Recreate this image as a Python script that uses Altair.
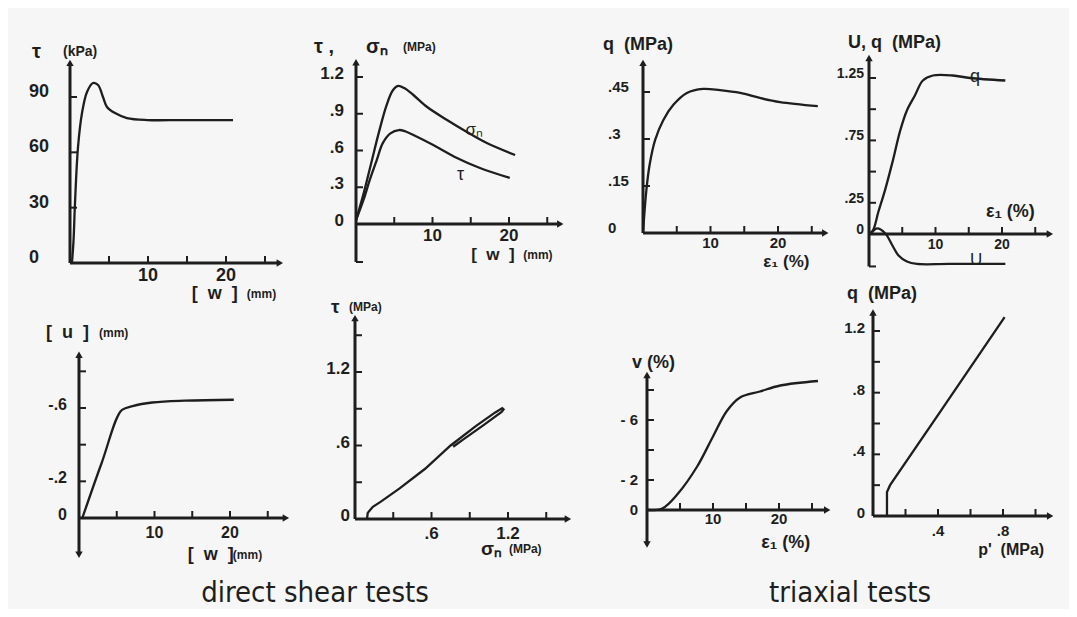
import altair as alt
import pandas as pd

# ------------------------------------------------------------------
# DATA
# ------------------------------------------------------------------
# Panel 1 - direct shear: tau (kPa) vs w (mm)
P1_W = [0.25, 0.45, 0.64, 1.03, 1.54, 2.18, 2.95, 3.6, 4.23, 4.74, 5.77, 7.3, 9.9, 14.5, 20.9]
P1_TAU = [0, 12, 32.5, 63, 81.3, 92.7, 97.6, 96.5, 90, 84.6, 81.3, 78.6, 77.5, 77.5, 77.5]

# Panel 2 - direct shear: sigma_n and tau (MPa) vs w (mm)
P2_W_SN = [0, 1, 2, 3, 4, 4.8, 5.5, 6.3, 7.5, 9.3, 11.9, 14.5, 17.1, 20.8]
P2_SN = [0.03, 0.25, 0.5, 0.75, 0.97, 1.09, 1.127, 1.11, 1.053, 0.955, 0.849, 0.751, 0.661, 0.563]
P2_W_TAU = [0, 1, 1.8, 2.7, 3.5, 4.5, 5.6, 6.5, 7.5, 10.1, 13.2, 16.2, 20.1]
P2_TAU = [0.03, 0.2, 0.36, 0.52, 0.66, 0.74, 0.767, 0.755, 0.727, 0.645, 0.539, 0.457, 0.376]

# Panel 3 - triaxial: q (MPa) vs eps1 (%)
P3_EPS = [0, 0.5, 1.0, 1.8, 3, 4.5, 6.5, 8.9, 11.4, 14.4, 17.3, 20.3, 25.9]
P3_Q = [0, 0.137, 0.22, 0.297, 0.36, 0.409, 0.447, 0.46, 0.456, 0.447, 0.431, 0.418, 0.405]

# Panel 4 - triaxial: q and U (MPa) vs eps1 (%)
P4_EPS_Q = [0, 0.6, 1.4, 2.4, 3.5, 4.7, 5.7, 6.9, 8.1, 9.6, 12.6, 15.2, 20.5]
P4_Q = [0, 0.03, 0.176, 0.35, 0.57, 0.83, 0.99, 1.11, 1.23, 1.27, 1.27, 1.25, 1.23]
P4_EPS_U = [0, 0.45, 1.2, 2.4, 3.5, 4.4, 5.7, 7.2, 12, 20.5]
P4_U = [0, 0.016, 0.045, 0.008, -0.09, -0.17, -0.22, -0.24, -0.24, -0.24]

# Panel 5 - direct shear: u (mm) vs w (mm)
P5_W = [0.4, 3.0, 5.7, 7.1, 9.7, 14.0, 20.5]
P5_U = [0.005, -0.3, -0.59, -0.61, -0.63, -0.64, -0.645]

# Panel 6 - direct shear: tau vs sigma_n (MPa), loading / unloading loop
P6_SN = [0.094, 0.10, 0.14, 0.2, 0.35, 0.55, 0.75, 0.95, 1.10, 1.155, 1.165, 1.15, 1.0, 0.85, 0.77]
P6_TAU = [0, 0.05, 0.10, 0.14, 0.25, 0.41, 0.6, 0.76, 0.87, 0.905, 0.895, 0.875, 0.76, 0.65, 0.59]

# Panel 7 - triaxial: v (%) vs eps1 (%)
P7_EPS = [0, 2.3, 4.7, 7.6, 10, 12.1, 14.1, 17.1, 20.2, 25.9]
P7_V = [0, -0.1, -1.1, -2.9, -4.9, -6.6, -7.5, -7.9, -8.3, -8.6]

# Panel 8 - triaxial: q vs p' (MPa)
P8_P = [0.086, 0.086, 0.105, 0.41, 0.81]
P8_Q = [0, 0.156, 0.2, 0.67, 1.29]

# Tick values and tick labels
P1_XTICKS, P1_YTICKS = [5, 10, 15, 20, 25], [30, 60, 90]
P1_XLAB, P1_YLAB = ["10", "20"], ["0", "30", "60", "90"]
P2_XTICKS, P2_YTICKS = [5, 10, 15, 20, 25], [0.3, 0.6, 0.9, 1.2]
P2_XLAB, P2_YLAB = ["10", "20"], ["0", ".3", ".6", ".9", "1.2"]
P3_XTICKS, P3_YTICKS = [5, 10, 15, 20, 25], [0.15, 0.3, 0.45]
P3_XLAB, P3_YLAB = ["10", "20"], ["0", ".15", ".3", ".45"]
P4_XTICKS, P4_YTICKS = [5, 10, 15, 20, 25], [0.25, 0.5, 0.75, 1.0, 1.25]
P4_XLAB, P4_YLAB = ["10", "20"], ["0", ".25", ".75", "1.25"]
P5_XTICKS, P5_YTICKS = [5, 10, 15, 20, 25], [-0.2, -0.4, -0.6, -0.8]
P5_XLAB, P5_YLAB = ["10", "20"], ["0", "-.2", "-.6"]
P6_XTICKS, P6_YTICKS = [0.3, 0.6, 0.9, 1.2, 1.5], [0.3, 0.6, 0.9, 1.2, 1.5]
P6_XLAB, P6_YLAB = [".6", "1.2"], ["0", ".6", "1.2"]
P7_XTICKS, P7_YTICKS = [5, 10, 15, 20, 25], [-2, -4, -6, -8]
P7_XLAB, P7_YLAB = ["10", "20"], ["0", "- 2", "- 6"]
P8_XTICKS, P8_YTICKS = [0.2, 0.4, 0.6, 0.8, 1.0], [0.2, 0.4, 0.6, 0.8, 1.0, 1.2]
P8_XLAB, P8_YLAB = [".4", ".8"], ["0", ".4", ".8", "1.2"]

CAPTIONS = ["direct shear tests", "triaxial tests"]

# ------------------------------------------------------------------
# STYLE
# ------------------------------------------------------------------
M = 8
INK = "#1e1e1e"
FONT = "Liberation Sans"
BG = "#f6f6f6"
TICK_LEN = 7
TICK_UP = "M0,0L0,-1"      # inward tick on the x axis (points up)
TICK_RIGHT = "M0,0L1,0"    # inward tick on the y axis (points right)
NB = "\u00a0"
BW = "[" + NB * 2 + "w" + NB * 2 + "]"
BU = "[" + NB * 2 + "u" + NB * 2 + "]"


def lab_values(labels):
    return [float(s.replace(" ", "")) for s in labels]


def build_panel(cfg):
    xs = alt.Scale(domain=cfg["xd"], range=[cfg["xp"][0] - M, cfg["xp"][1] - M], nice=False, zero=False)
    ys = alt.Scale(domain=cfg["yd"], range=[cfg["yp"][0] - M, cfg["yp"][1] - M], nice=False, zero=False)

    def X(f):
        return alt.X(f, type="quantitative", scale=xs, axis=None)

    def Y(f):
        return alt.Y(f, type="quantitative", scale=ys, axis=None)

    layers = []
    # axis lines
    x0, x1 = cfg["xline"]
    y0, y1 = cfg["yline"]
    layers.append(alt.Chart(pd.DataFrame({"a": [x0], "b": [x1], "y": [0]})).mark_rule(
        color=INK, strokeWidth=2.8).encode(x=X("a"), x2=alt.X2("b"), y=Y("y")))
    layers.append(alt.Chart(pd.DataFrame({"x": [0], "a": [y0], "b": [y1]})).mark_rule(
        color=INK, strokeWidth=3).encode(x=X("x"), y=Y("a"), y2=alt.Y2("b")))
    # arrow heads
    arr = [{"x": x1, "y": 0, "s": "triangle-right"}, {"x": 0, "y": y1, "s": "triangle-up"}]
    if cfg.get("down_arrow"):
        arr.append({"x": 0, "y": y0, "s": "triangle-down"})
    layers.append(alt.Chart(pd.DataFrame(arr)).mark_point(
        filled=True, color=INK, size=55, opacity=1).encode(
        x=X("x"), y=Y("y"), shape=alt.Shape("s:N", scale=None)))
    # inward ticks (custom symbol paths, length TICK_LEN px)
    tsize = (2 * TICK_LEN) ** 2
    layers.append(alt.Chart(pd.DataFrame({"x": cfg["xticks"], "y": [0] * len(cfg["xticks"])})).mark_point(
        shape=TICK_UP, size=tsize, filled=False, strokeWidth=2, color=INK, opacity=1).encode(
        x=X("x"), y=Y("y")))
    yt = list(cfg["yticks"]) + ([y0] if cfg.get("bottom_tick") else [])
    layers.append(alt.Chart(pd.DataFrame({"x": [0] * len(yt), "y": yt})).mark_point(
        shape=TICK_RIGHT, size=tsize, filled=False, strokeWidth=2, color=INK, opacity=1).encode(
        x=X("x"), y=Y("y")))
    # tick labels
    xl = cfg["xlab"]
    layers.append(alt.Chart(pd.DataFrame({"x": lab_values(xl), "y": [0] * len(xl), "t": xl})).mark_text(
        align="center", baseline="middle", dy=cfg["xlab_dy"], fontSize=cfg["fs"], fontWeight="bold",
        font=FONT, color=INK).encode(x=X("x"), y=Y("y"), text="t:N"))
    yl = cfg["ylab"]
    layers.append(alt.Chart(pd.DataFrame({"x": [0] * len(yl), "y": lab_values(yl), "t": yl})).mark_text(
        align=cfg["ylab_align"], baseline="middle", dx=cfg["ylab_dx"], dy=cfg["ylab_dy"], fontSize=cfg["fs"],
        fontWeight="bold", font=FONT, color=INK).encode(x=X("x"), y=Y("y"), text="t:N"))
    # curves
    for xs_, ys_, interp in cfg["curves"]:
        df = pd.DataFrame({"x": xs_, "y": ys_, "i": list(range(len(xs_)))})
        layers.append(alt.Chart(df).mark_line(interpolate=interp, strokeWidth=2.3, color=INK).encode(
            x=X("x"), y=Y("y"), order="i:Q"))
    # axis titles (anchored to the axis ends)
    for t in cfg["titles"]:
        text, anchor, dx, dy, fs, fw = t
        ax, ay = (0, y1) if anchor == "ytop" else (x1, 0)
        layers.append(alt.Chart(pd.DataFrame({"x": [ax], "y": [ay], "t": [text]})).mark_text(
            align="left", baseline="middle", dx=dx, dy=dy, fontSize=fs, fontWeight=fw,
            font=FONT, color=INK).encode(x=X("x"), y=Y("y"), text="t:N"))
    # curve labels (in data units)
    for text, lx, ly, fs in cfg.get("curve_labels", []):
        layers.append(alt.Chart(pd.DataFrame({"x": [lx], "y": [ly], "t": [text]})).mark_text(
            align="left", baseline="middle", fontSize=fs, font=FONT, color=INK).encode(
            x=X("x"), y=Y("y"), text="t:N"))
    return alt.layer(*layers)


PANELS = [
    dict(xd=[0, 20], xp=[70, 226], yd=[0, 90], yp=[263, 97], xline=[0, 26.9], yline=[0, 108.5],
         xticks=P1_XTICKS, yticks=P1_YTICKS, xlab=P1_XLAB, ylab=P1_YLAB, fs=18,
         xlab_dy=13, ylab_align="left", ylab_dx=-41, ylab_dy=-5,
         curves=[(P1_W, P1_TAU, "catmull-rom")],
         titles=[("τ", "ytop", -38, -11, 20, "bold"), ("(kPa)", "ytop", -7, -11, 14, "bold"),
                 (BW, "xend", -88, 31, 18, "bold"), ("(mm)", "xend", -33, 31, 12, "bold")]),
    dict(xd=[0, 20], xp=[356, 509], yd=[0, 1.2], yp=[224, 77], xline=[0, 26.7], yline=[-0.31, 1.32],
         bottom_tick=True,
         xticks=P2_XTICKS, yticks=P2_YTICKS, xlab=P2_XLAB, ylab=P2_YLAB, fs=17,
         xlab_dy=12, ylab_align="right", ylab_dx=-12, ylab_dy=-3,
         curves=[(P2_W_SN, P2_SN, "catmull-rom"), (P2_W_TAU, P2_TAU, "catmull-rom")],
         titles=[("τ ,", "ytop", -42, -15, 20, "bold"), ("σₙ", "ytop", 10, -15, 20, "bold"),
                 ("(MPa)", "ytop", 47, -15, 12, "bold"),
                 (BW, "xend", -89, 31, 17, "bold"), ("(mm)", "xend", -37, 31, 12, "bold")],
         curve_labels=[("σₙ", 14.3, 0.77, 17), ("τ", 13.2, 0.40, 18)]),
    dict(xd=[0, 20], xp=[643, 778], yd=[0, 0.45], yp=[233, 92], xline=[0, 27], yline=[0, 0.543],
         xticks=P3_XTICKS, yticks=P3_YTICKS, xlab=P3_XLAB, ylab=P3_YLAB, fs=15,
         xlab_dy=10, ylab_align="left", ylab_dx=-35, ylab_dy=-5,
         curves=[(P3_EPS, P3_Q, "catmull-rom")],
         titles=[("q" + NB + NB + "(MPa)", "ytop", -40, -18, 18, "bold"),
                 ("ε₁ (%)", "xend", -62, 29, 17, "bold")]),
    dict(xd=[0, 20], xp=[869, 1002], yd=[0, 1.25], yp=[234, 78], xline=[0, 27.2], yline=[-0.26, 1.41],
         bottom_tick=True,
         xticks=P4_XTICKS, yticks=P4_YTICKS, xlab=P4_XLAB, ylab=P4_YLAB, fs=14,
         xlab_dy=11, ylab_align="right", ylab_dx=-5, ylab_dy=-4,
         curves=[(P4_EPS_Q, P4_Q, "catmull-rom"), (P4_EPS_U, P4_U, "catmull-rom")],
         titles=[("U, q" + NB + NB + "(MPa)", "ytop", -21, -15, 18, "bold"),
                 ("ε₁ (%)", "xend", -64, -22, 18, "bold")],
         curve_labels=[("q", 15.2, 1.26, 18), ("U", 15.2, -0.21, 17)]),
    dict(xd=[0, 20], xp=[79, 230], yd=[0, -0.6], yp=[518, 408], xline=[0, 27.4], yline=[0.2, -0.89],
         down_arrow=True,
         xticks=P5_XTICKS, yticks=P5_YTICKS, xlab=P5_XLAB, ylab=P5_YLAB, fs=16,
         xlab_dy=15, ylab_align="right", ylab_dx=-12, ylab_dy=-3,
         curves=[(P5_W, P5_U, "monotone")],
         titles=[(BU, "ytop", -33, -22, 18, "bold"), ("(mm)", "ytop", 20, -22, 12, "bold"),
                 (BW, "xend", -98, 37, 18, "bold"), ("(mm)", "xend", -53, 37, 12, "bold")]),
    dict(xd=[0, 1.2], xp=[355, 508], yd=[0, 1.2], yp=[519, 372], xline=[0, 1.67], yline=[0, 1.64],
         xticks=P6_XTICKS, yticks=P6_YTICKS, xlab=P6_XLAB, ylab=P6_YLAB, fs=17,
         xlab_dy=15, ylab_align="right", ylab_dx=-5, ylab_dy=-3,
         curves=[(P6_SN, P6_TAU, "linear")],
         titles=[("τ", "ytop", -24, -11, 19, "bold"), ("(MPa)", "ytop", -6, -11, 12, "bold"),
                 ("σₙ", "xend", -87, 30, 19, "bold"), ("(MPa)", "xend", -59, 30, 12, "bold")]),
    dict(xd=[0, 20], xp=[647, 779], yd=[0, -8], yp=[510, 390], xline=[0, 27.3], yline=[2.3, -9.0],
         down_arrow=True,
         xticks=P7_XTICKS, yticks=P7_YTICKS, xlab=P7_XLAB, ylab=P7_YLAB, fs=15,
         xlab_dy=9, ylab_align="right", ylab_dx=-9, ylab_dy=0,
         curves=[(P7_EPS, P7_V, "catmull-rom")],
         titles=[("v (%)", "ytop", -15, -12, 18, "bold"), ("ε₁ (%)", "xend", -66, 33, 18, "bold")]),
    dict(xd=[0, 0.8], xp=[873, 1003], yd=[0, 1.2], yp=[516, 331], xline=[0, 1.09], yline=[0, 1.32],
         xticks=P8_XTICKS, yticks=P8_YTICKS, xlab=P8_XLAB, ylab=P8_YLAB, fs=15,
         xlab_dy=15, ylab_align="right", ylab_dx=-8, ylab_dy=-3,
         curves=[(P8_P, P8_Q, "linear")],
         titles=[("q" + NB + NB + "(MPa)", "ytop", -26, -19, 18, "bold"),
                 ("p'" + NB + NB + "(MPa)", "xend", -72, 34, 16, "bold")]),
]

panels = [build_panel(c) for c in PANELS]

captions = alt.Chart(pd.DataFrame({"t": CAPTIONS, "px": [315 - M, 850 - M]})).mark_text(
    align="center", baseline="alphabetic", fontSize=29, font="DejaVu Sans Condensed", color=INK
).encode(x=alt.X("px:Q", scale=None, axis=None), y=alt.value(602 - M), text="t:N")

chart = alt.layer(*panels, captions).resolve_scale(x="independent", y="independent").properties(
    width=1077 - 2 * M, height=617 - 2 * M, padding=0, autosize="none", background=BG
).configure_view(stroke=None)

chart.save("out.html", embed_options={"renderer": "svg", "actions": False})
